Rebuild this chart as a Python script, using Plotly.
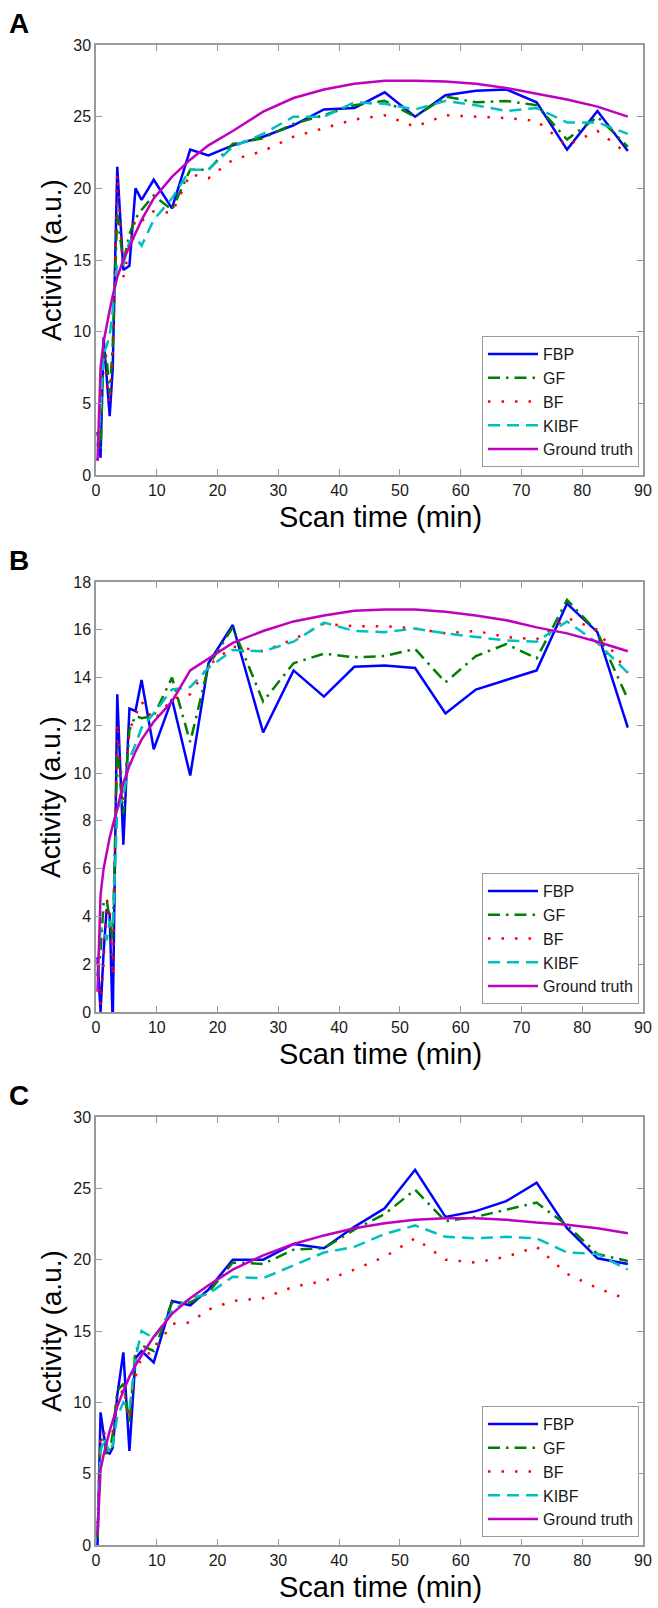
import plotly.graph_objects as go

# frame mid-times (min): 6x30 s, 5x1 min, 4x3 min, 14x5 min
scan_time = [0.25, 0.75, 1.25, 1.75, 2.25, 2.75, 3.5, 4.5, 5.5, 6.5, 7.5, 9.5,
             12.5, 15.5, 18.5, 22.5, 27.5, 32.5, 37.5, 42.5, 47.5, 52.5, 57.5,
             62.5, 67.5, 72.5, 77.5, 82.5, 87.5]

# panel A
fbp_a = [3.0, 1.2, 9.6, 6.8, 4.1, 7.4, 21.5, 14.3, 14.6, 20.0, 19.2, 20.6, 18.6, 22.7, 22.3,
         23.0, 23.6, 24.4, 25.5, 25.6, 26.7, 25.0, 26.5, 26.8, 26.9, 26.0, 22.7, 25.4, 22.6]
gf_a = [3.0, 1.8, 8.8, 8.2, 5.6, 9.0, 18.2, 14.8, 16.8, 17.9, 18.5, 19.5, 18.5, 21.3, 21.3,
        23.1, 23.5, 24.5, 25.1, 25.8, 26.1, 25.0, 26.4, 26.0, 26.1, 25.8, 23.4, 25.0, 22.9]
bf_a = [1.0, 5.5, 8.8, 6.5, 5.0, 8.5, 21.0, 13.8, 15.8, 17.9, 17.7, 18.4, 18.3, 21.0, 20.7,
        22.0, 22.6, 23.6, 24.2, 24.8, 25.1, 24.3, 25.1, 25.0, 24.9, 24.7, 23.0, 24.0, 22.4]
kibf_a = [2.0, 4.5, 8.5, 9.0, 9.7, 11.5, 14.8, 14.7, 16.3, 16.6, 16.0, 17.8, 19.3, 21.3, 21.3,
          22.9, 23.8, 25.0, 25.0, 26.0, 25.9, 25.5, 26.1, 25.8, 25.4, 25.6, 24.6, 24.6, 23.8]
truth_a = [1.0, 7.5, 9.3, 10.5, 11.5, 12.5, 13.8, 15.0, 15.9, 16.9, 17.8, 19.3, 20.8, 22.0, 23.0,
           24.0, 25.35, 26.3, 26.9, 27.3, 27.5, 27.5, 27.45, 27.3, 27.0, 26.6, 26.2, 25.7, 25.0]

# panel B
fbp_b = [2.3, 0.0, 2.5, 4.3, 4.1, -0.5, 13.3, 7.0, 12.7, 12.6, 13.9, 11.0, 13.1, 9.9, 14.6,
         16.2, 11.7, 14.3, 13.2, 14.45, 14.5, 14.4, 12.5, 13.5, 13.9, 14.3, 17.1, 15.9, 11.9]
gf_b = [1.5, 2.5, 4.6, 4.7, 3.9, 3.0, 11.0, 8.3, 11.8, 12.4, 12.3, 12.4, 14.0, 11.3, 14.5,
        16.1, 13.0, 14.6, 15.0, 14.85, 14.9, 15.2, 13.8, 14.9, 15.4, 14.8, 17.25, 15.9, 13.1]
bf_b = [2.1, 0.3, 2.0, 4.7, 4.4, 1.5, 12.1, 8.8, 11.8, 12.4, 13.0, 12.2, 13.1, 13.3, 14.5,
        15.3, 15.1, 15.6, 16.25, 16.15, 16.15, 16.05, 15.85, 15.95, 15.7, 15.6, 16.5, 16.0, 14.2]
kibf_b = [1.5, 3.5, 3.5, 3.0, 3.8, 3.5, 8.5, 9.0, 10.6, 11.2, 11.9, 12.5, 13.5, 13.6, 14.4,
          15.15, 15.1, 15.5, 16.3, 15.95, 15.9, 16.05, 15.85, 15.7, 15.55, 15.5, 16.35, 15.45, 14.2]
truth_b = [0.85, 4.9, 6.0, 6.7, 7.3, 7.8, 8.5, 9.6, 10.3, 10.9, 11.4, 12.15, 13.0, 14.3, 14.8,
           15.45, 15.95, 16.35, 16.6, 16.8, 16.85, 16.85, 16.75, 16.6, 16.4, 16.1, 15.85, 15.5, 15.1]

# panel C
fbp_c = [0.0, 9.3, 7.8, 6.5, 6.4, 6.8, 10.5, 13.5, 6.6, 13.1, 13.6, 12.8, 17.1, 16.8, 17.9,
         20.0, 20.0, 21.1, 20.8, 22.3, 23.6, 26.3, 23.0, 23.4, 24.1, 25.4, 22.2, 20.1, 19.7]
gf_c = [0.5, 7.3, 7.5, 6.3, 6.5, 7.8, 10.8, 11.3, 8.5, 13.7, 14.0, 13.6, 17.0, 17.0, 17.7,
        19.8, 19.7, 20.7, 20.8, 22.1, 23.2, 24.9, 22.7, 23.0, 23.5, 24.0, 22.4, 20.4, 19.9]
bf_c = [1.5, 7.9, 7.9, 7.6, 7.9, 7.9, 10.0, 11.0, 8.8, 11.8, 13.2, 13.6, 15.5, 15.6, 16.5,
        17.1, 17.3, 18.1, 18.5, 19.3, 20.2, 21.5, 20.0, 19.8, 20.2, 20.9, 19.0, 18.0, 17.2]
kibf_c = [1.0, 6.5, 7.5, 7.0, 6.5, 7.0, 9.0, 10.0, 9.5, 13.1, 15.0, 14.5, 16.4, 17.3, 17.6,
          18.8, 18.7, 19.6, 20.5, 20.9, 21.8, 22.4, 21.6, 21.5, 21.6, 21.5, 20.5, 20.4, 19.3]
truth_c = [0.7, 5.3, 6.3, 7.2, 8.0, 8.7, 9.7, 10.8, 11.8, 12.6, 13.3, 14.6, 16.2, 17.3, 18.2,
           19.3, 20.3, 21.1, 21.7, 22.2, 22.55, 22.8, 22.9, 22.9, 22.8, 22.6, 22.45, 22.2, 21.85]

method_names = ['FBP', 'GF', 'BF', 'KIBF', 'Ground truth']
panel_labels = ['A', 'B', 'C']
y_ranges = [[0, 30], [0, 18], [0, 30]]
y_steps = [5, 2, 5]

W, H = 658, 1608

line_styles = [
    dict(color='#0000ff', width=2.5),
    dict(color='#007f00', width=2.5, dash='12px,6px,2.5px,6px'),
    dict(color='#ff0000', width=2.5, dash='2.5px,11px'),
    dict(color='#00bfbf', width=2.5, dash='12px,7px'),
    dict(color='#bf00bf', width=2.5),
]

# pixel boxes of each plot area: (top, bottom)
plot_boxes = [(45, 475), (582, 1012), (1117, 1545)]
x_left, x_right = 96, 643


def px_x(x):
    return x / W


def px_y(y):
    return 1 - y / H


def label(text, x, y, size, bold=False, angle=0):
    """annotation centred on a pixel position"""
    return dict(text='<b>%s</b>' % text if bold else text,
                x=px_x(x), y=px_y(y), xref='paper', yref='paper',
                xanchor='center', yanchor='middle', showarrow=False, textangle=angle,
                font=dict(family='Arial', size=size, color='black'))


panels = [
    [fbp_a, gf_a, bf_a, kibf_a, truth_a],
    [fbp_b, gf_b, bf_b, kibf_b, truth_b],
    [fbp_c, gf_c, bf_c, kibf_c, truth_c],
]

fig = go.Figure()
annotations = []
axis_font = dict(family='Arial', size=16, color='#1a1a1a')

for i, series in enumerate(panels):
    n = i + 1
    sfx = '' if n == 1 else str(n)
    legend_name = 'legend' if n == 1 else 'legend%d' % n
    for name, vals, style in zip(method_names, series, line_styles):
        fig.add_trace(go.Scatter(
            x=scan_time, y=vals, mode='lines', name=name,
            line=style, xaxis='x' + sfx, yaxis='y' + sfx,
            legend=legend_name, hoverinfo='skip'
        ))

    top, bottom = plot_boxes[i]
    common = dict(showline=True, mirror='ticks', linecolor='#9a9a9a', linewidth=1.5,
                  ticks='inside', ticklen=6, tickcolor='#9a9a9a', tickwidth=1,
                  showgrid=False, zeroline=False, tickfont=axis_font, automargin=False)
    fig.update_layout(**{
        'xaxis' + sfx: dict(domain=[px_x(x_left), px_x(x_right)], range=[0, 90],
                            dtick=10, anchor='y' + sfx, **common),
        'yaxis' + sfx: dict(domain=[px_y(bottom), px_y(top)], range=y_ranges[i],
                            dtick=y_steps[i], anchor='x' + sfx, **common),
        legend_name: dict(x=px_x(639), y=px_y(bottom - 8), xanchor='right', yanchor='bottom',
                          bgcolor='white', bordercolor='#9a9a9a', borderwidth=1,
                          font=dict(family='Arial', size=16, color='#1a1a1a'),
                          itemwidth=50, tracegroupgap=0),
    })

    annotations.append(label(panel_labels[i], 19, top - 22, 28, bold=True))
    annotations.append(label('Scan time (min)', 380, bottom + 42, 29))
    annotations.append(label('Activity (a.u.)', 51, (top + bottom) / 2, 28, angle=-90))

fig.update_layout(
    template='none',
    width=W, height=H,
    margin=dict(l=0, r=0, t=0, b=0),
    paper_bgcolor='white', plot_bgcolor='white',
    annotations=annotations,
    showlegend=True,
)

# drop the default page margin so the figure fills the window
fig.write_html("out.html", config={'displayModeBar': False},
               post_script="document.body.style.margin='0';")
